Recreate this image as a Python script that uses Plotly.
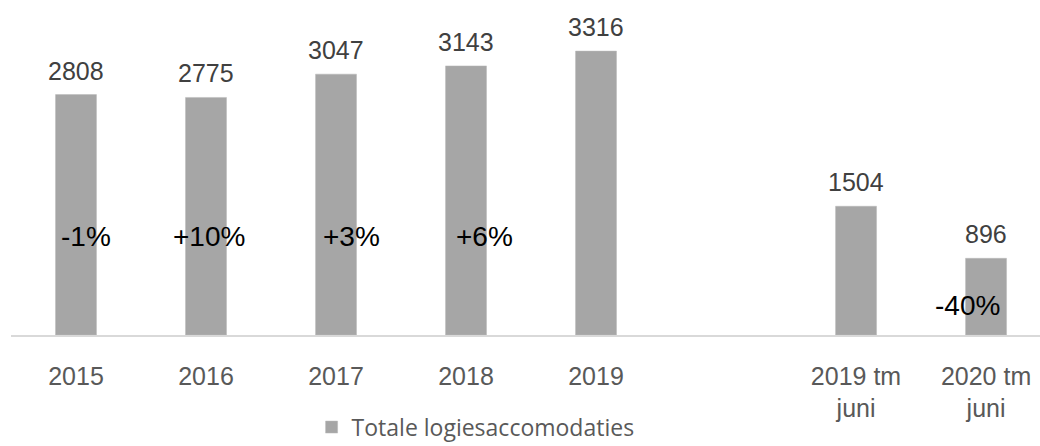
import plotly.graph_objects as go

categories = ["2015", "2016", "2017", "2018", "2019", " ", "2019 tm<br>juni", "2020 tm<br>juni"]
values = [2808, 2775, 3047, 3143, 3316, None, 1504, 896]
series_name = "Totale logiesaccomodaties"
pct_labels = ["-1%", "+10%", "+3%", "+6%", "-40%"]

BAR = "#a6a6a6"
fig = go.Figure()
fig.add_trace(go.Bar(
    x=categories, y=values, name=series_name,
    marker=dict(color=BAR, line=dict(color="#b8b8b8", width=0.5)),
    width=0.315, showlegend=True,
))

annotations = []
for i, v in enumerate(values):
    if v is None:
        continue
    annotations.append(dict(
        x=i, y=v, xref="x", yref="y", text=str(v), showarrow=False,
        yanchor="bottom", yshift=8,
        font=dict(family="Liberation Sans, Arial", size=25, color="#404040"),
    ))

# percentage-change text boxes (free-floating in the original)
pct_pos = [(0.077, 1145), (1.02, 1145), (2.12, 1145), (3.14, 1145), (6.86, 339)]
for lab, (px, py) in zip(pct_labels, pct_pos):
    annotations.append(dict(
        x=px, y=py, xref="x", yref="y", text=lab, showarrow=False,
        yanchor="middle", xanchor="center",
        font=dict(family="Liberation Sans, Arial", size=28, color="#000000"),
    ))

fig.update_layout(
    width=1040, height=446,
    margin=dict(l=11, r=0, t=0, b=111, autoexpand=False),
    plot_bgcolor="white", paper_bgcolor="white",
    annotations=annotations,
    xaxis=dict(
        type="category", range=[-0.5, 7.415], automargin=False,
        showline=True, linecolor="#d9d9d9", linewidth=1.5,
        showgrid=False, ticks="", ticklabelstandoff=18,
        tickfont=dict(family="Liberation Sans, Arial", size=25, color="#595959"),
    ),
    yaxis=dict(range=[0, 3913], visible=False, showgrid=False, automargin=False),
    legend=dict(
        orientation="h", x=0.4515, xanchor="center", y=-0.275, yanchor="middle",
        font=dict(family="Open Sans", size=23, color="#595959"),
        itemwidth=30,
    ),
    showlegend=True,
)

fig.write_html("out.html")
